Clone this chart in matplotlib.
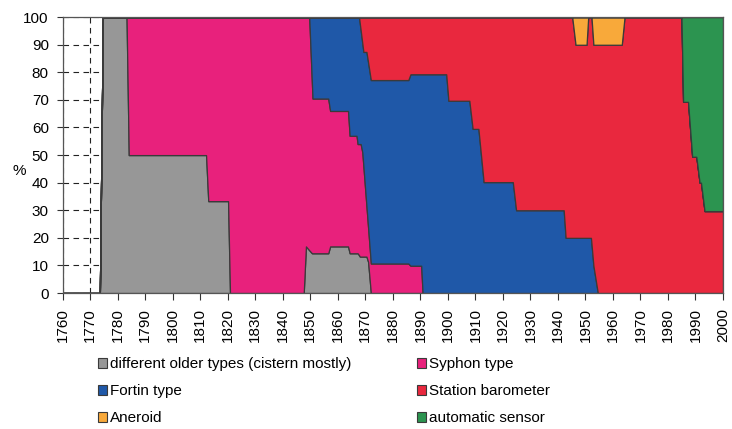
import matplotlib
matplotlib.use("Agg")
import matplotlib.pyplot as plt
from matplotlib.patches import Patch

plt.rcParams['font.family'] = ['Liberation Sans', 'DejaVu Sans']

# year breakpoints (shares in %)
years = [1760, 1773.5, 1774.6, 1783.2, 1784.0, 1812.1, 1812.9, 1820.1, 1820.8,
         1847.6, 1848.4, 1849.6, 1850.6, 1850.8, 1856.5, 1857.2, 1863.7, 1864.3,
         1866.8, 1867.2, 1867.7, 1868.0, 1868.3, 1868.9, 1869.3, 1870.4, 1871.0,
         1872.0, 1885.6, 1886.4, 1890.3, 1890.8, 1899.4, 1900.2, 1907.8, 1909.0,
         1911.1, 1913.0, 1923.6, 1924.8, 1942.1, 1942.8, 1945.2, 1946.4, 1950.4,
         1951.0, 1952.0, 1952.2, 1952.9, 1954.5, 1963.2, 1964.2, 1984.9, 1985.5,
         1987.3, 1988.8, 1990.3, 1991.5, 1992.0, 1993.3, 2000]

older = [0, 0, 100, 100, 50, 50, 33.3, 33.3, 0,
         0, 16.9, 15.5, 14.4, 14.4, 14.4, 16.9, 16.9, 14.4,
         14.4, 14.4, 13.7, 13.2, 13.2, 13.2, 13.2, 13.2, 11.3,
         0, 0, 0, 0, 0, 0, 0, 0, 0,
         0, 0, 0, 0, 0, 0, 0, 0, 0,
         0, 0, 0, 0, 0, 0, 0, 0, 0,
         0, 0, 0, 0, 0, 0, 0]

syphon = [0, 0, 0, 0, 50, 50, 66.7, 66.7, 100,
          100, 83.1, 84.5, 61, 56.1, 56.1, 49.1, 49.1, 42.6,
          42.6, 39.6, 40.3, 40.8, 40.8, 37.8, 32.6, 18.3, 12.4,
          10.7, 10.7, 9.9, 9.9, 0, 0, 0, 0, 0,
          0, 0, 0, 0, 0, 0, 0, 0, 0,
          0, 0, 0, 0, 0, 0, 0, 0, 0,
          0, 0, 0, 0, 0, 0, 0]

fortin = [0, 0, 0, 0, 0, 0, 0, 0, 0,
          0, 0, 0, 24.6, 29.5, 29.5, 34, 34, 43,
          43, 46, 46, 43.6, 41.3, 39.5, 41.6, 55.9, 59.9,
          66.5, 66.5, 69.4, 69.4, 79.3, 79.3, 69.7, 69.7, 59.5,
          59.5, 40.2, 40.2, 30, 30, 20, 20, 20, 20,
          20, 20, 17.8, 9.9, 0, 0, 0, 0, 0,
          0, 0, 0, 0, 0, 0, 0]

station = [0, 0, 0, 0, 0, 0, 0, 0, 0,
           0, 0, 0, 0, 0, 0, 0, 0, 0,
           0, 0, 0, 2.4, 4.7, 9.5, 12.6, 12.6, 16.4,
           22.8, 22.8, 20.7, 20.7, 20.7, 20.7, 30.3, 30.3, 40.5,
           40.5, 59.8, 59.8, 70, 70, 80, 80, 70, 70,
           80, 80, 82.2, 80.1, 90, 90, 100, 100, 69.3,
           69.3, 49.4, 49.4, 40, 40, 29.7, 29.7]

aneroid = [0, 0, 0, 0, 0, 0, 0, 0, 0,
           0, 0, 0, 0, 0, 0, 0, 0, 0,
           0, 0, 0, 0, 0, 0, 0, 0, 0,
           0, 0, 0, 0, 0, 0, 0, 0, 0,
           0, 0, 0, 0, 0, 0, 0, 10, 10,
           0, 0, 0, 10, 10, 10, 0, 0, 0,
           0, 0, 0, 0, 0, 0, 0]

automatic = [0, 0, 0, 0, 0, 0, 0, 0, 0,
             0, 0, 0, 0, 0, 0, 0, 0, 0,
             0, 0, 0, 0, 0, 0, 0, 0, 0,
             0, 0, 0, 0, 0, 0, 0, 0, 0,
             0, 0, 0, 0, 0, 0, 0, 0, 0,
             0, 0, 0, 0, 0, 0, 0, 0, 30.7,
             30.7, 50.6, 50.6, 60, 60, 70.3, 70.3]

labels = ["different older types (cistern mostly)", "Syphon type", "Fortin type",
          "Station barometer", "Aneroid", "automatic sensor"]
colors = ["#979797", "#e8217c", "#1f58a8", "#e9283e", "#f8a93a", "#2c9450"]

fig = plt.figure(figsize=(7.32, 4.29), dpi=100)
ax = fig.add_axes([0.0857, 0.317, 0.902, 0.643])

ax.set_axisbelow(True)
ax.grid(True, color="#222222", linestyle=(0, (5, 4)), linewidth=0.8)

ax.stackplot(years, older, syphon, fortin, station, aneroid, automatic,
             colors=colors, edgecolor="#3a3a3a", linewidth=0.9)

ax.set_xlim(1760, 2000)
ax.set_ylim(0, 100)
ax.set_xticks(range(1760, 2001, 10))
ax.set_yticks(range(0, 101, 10))
ax.tick_params(axis="x", labelrotation=90, labelsize=11, length=5, pad=6, color="#333333")
ax.tick_params(axis="y", labelsize=11, length=4, pad=6, color="#333333")
for s in ax.spines.values():
    s.set_color("#555555")
    s.set_linewidth(0.9)
fig.text(19 / 732, 1 - 171 / 429, "%", fontsize=11, ha="center", va="center")

# legend: column-wise order gives the 2x3 layout of the reference
order = [0, 2, 4, 1, 3, 5]
handles = [Patch(facecolor=colors[i], edgecolor="#3a3a3a", linewidth=0.8) for i in order]
fig.legend(handles, [labels[i] for i in order], ncol=2, frameon=False,
           loc="upper left", bbox_to_anchor=(0.125, 0.181), borderaxespad=0,
           fontsize=11, handlelength=0.6, handleheight=0.6, handletextpad=0.2,
           columnspacing=4.3, labelspacing=0.84)

fig.savefig("out.png", dpi=100)
